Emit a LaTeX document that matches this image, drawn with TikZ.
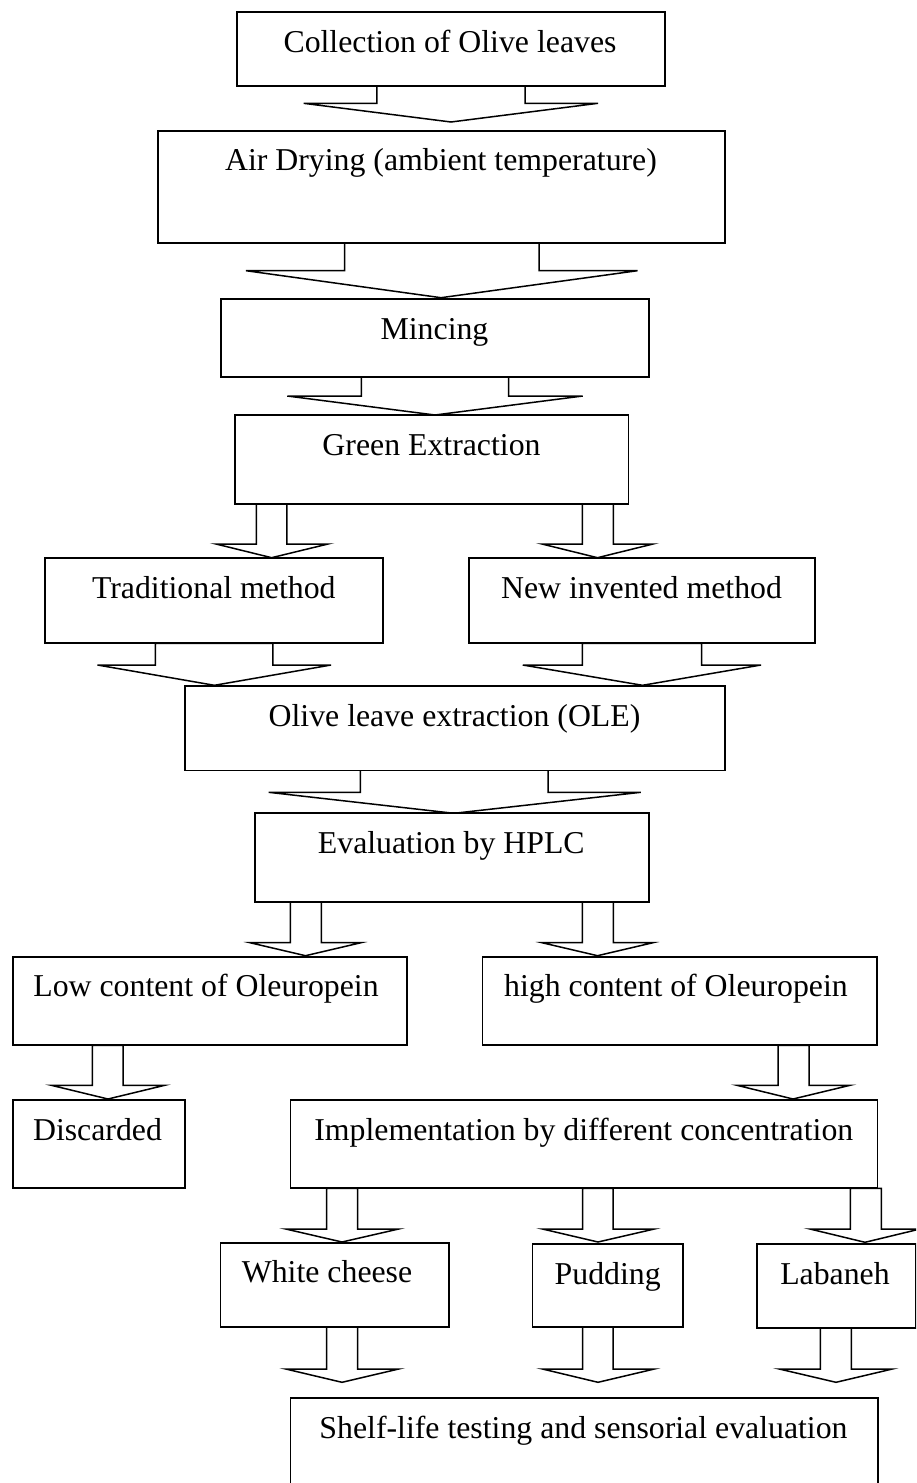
\documentclass[tikz,border=0pt]{standalone}
\usepackage{fontspec}
\setmainfont{Liberation Serif}
\newcommand\tfont{\fontsize{31.8}{38}\selectfont}
\tikzset{
  boxst/.style={draw=black, line width=1.8pt, rectangle, inner sep=0pt, outer sep=0pt, fill=white},
  txt/.style={anchor=base, inner sep=0pt, font=\tfont},
  blk/.style={draw=black, line width=1.5pt, line join=miter, fill=white}
}
% box: name, x1, y1, x2, y2, text, text centre x
\newcommand\mybox[7]{%
  \node[boxst, minimum width={(#4-#2)*1pt}, minimum height={(#5-#3)*1pt}] (#1) at ({(#2+#4)/2},{(#3+#5)/2}) {};
  \node[txt] (#1t) at (#7,{#3+40}) {#6};}
% block arrow: shaft xl, xr, top y, shaft bottom y, wing l, wing r, tip x, tip y
\newcommand\myarrow[8]{%
  \draw[blk] (#1,#3) -- (#1,#4) -- (#5,#4) -- (#7,#8) -- (#6,#4) -- (#2,#4) -- (#2,#3) -- cycle;}
\begin{document}
\begin{tikzpicture}[x=1pt,y=-1pt]
\useasboundingbox (0,0) rectangle (916,1483);
\clip (0,0) rectangle (916,1483);
\fill[white] (0,0) rectangle (916,1483);
% arrows first (boxes drawn on top)
\myarrow{376.8}{525}{85.7}{103.3}{303.6}{598}{451}{122}
\myarrow{344.6}{539}{242.7}{270.7}{246}{637.5}{441}{297.7}
\myarrow{361.3}{508.7}{376.7}{396}{287.3}{582.7}{435}{415}
\myarrow{256.4}{286.8}{503.7}{544}{216}{328}{271.6}{557.7}
\myarrow{582.4}{613.3}{503.7}{544}{542}{653}{597.5}{557.7}
\myarrow{155.4}{272.8}{643.3}{665}{97.5}{331}{214.4}{685.3}
\myarrow{582.4}{701.5}{643.3}{665}{522.8}{761}{642.5}{685.3}
\myarrow{360.4}{548}{770}{792.3}{268.7}{640.8}{453.9}{813.3}
\myarrow{290.3}{321.3}{902}{942.7}{250}{361}{305.5}{955.7}
\myarrow{582.4}{613.3}{902}{942.7}{542}{653}{597.5}{955.7}
\myarrow{92.3}{123.2}{1045.3}{1085.3}{51.4}{164.7}{108}{1099}
\myarrow{778}{809}{1045.3}{1085.3}{737}{850}{793}{1099}
\myarrow{326.5}{357.5}{1188.3}{1229}{285.8}{398.6}{342}{1242}
\myarrow{582.6}{613.2}{1188.3}{1229}{542.5}{654.3}{598}{1242}
\myarrow{850.3}{881.3}{1188.3}{1229}{810}{920}{865}{1242.3}
\myarrow{326.5}{357.5}{1326.7}{1369}{285.8}{398.6}{342}{1382.3}
\myarrow{582.6}{613.2}{1327}{1369}{542.5}{654.3}{598}{1382.3}
\myarrow{820.3}{851.3}{1327.7}{1369}{779.3}{892.3}{836}{1382.3}
% boxes
\mybox{b1}{236.8}{12.3}{665}{85.7}{Collection of Olive leaves}{450}
\mybox{b2}{158}{130.7}{725}{242.7}{Air Drying (ambient temperature)}{441}
\mybox{b3}{220.7}{299}{649.3}{376.7}{Mincing}{434.5}
\mybox{b4}{234.8}{415}{628.5}{503.7}{Green Extraction}{431.5}
\mybox{b5}{45}{558.3}{382.6}{643.3}{Traditional method}{213.8}
\mybox{b6}{469}{558.3}{814.8}{643.3}{New invented method}{641.5}
\mybox{b7}{184.6}{686}{724.9}{770.5}{Olive leave extraction (OLE)}{454.5}
\mybox{b8}{254.7}{813.3}{649}{902}{Evaluation by HPLC}{451.3}
\mybox{b9}{12.9}{956.7}{407}{1045.3}{Low content of Oleuropein}{206}
\mybox{b10}{482.5}{956.7}{877.3}{1045.3}{high content of Oleuropein}{676}
\mybox{b11}{12.9}{1100}{185}{1188}{Discarded}{97.5}
\mybox{b12}{290.4}{1100}{877.5}{1188.3}{Implementation by different concentration}{583.8}
\mybox{b13}{220.5}{1242.7}{448.9}{1326.7}{White cheese}{327}
\mybox{b14}{532.4}{1244}{683}{1327}{Pudding}{607.7}
\mybox{b15}{756.7}{1244}{915.7}{1327.7}{Labaneh}{835}
\mybox{b16}{290.4}{1398.3}{877.7}{1510}{Shelf-life testing and sensorial evaluation}{583.5}
\end{tikzpicture}
\end{document}
